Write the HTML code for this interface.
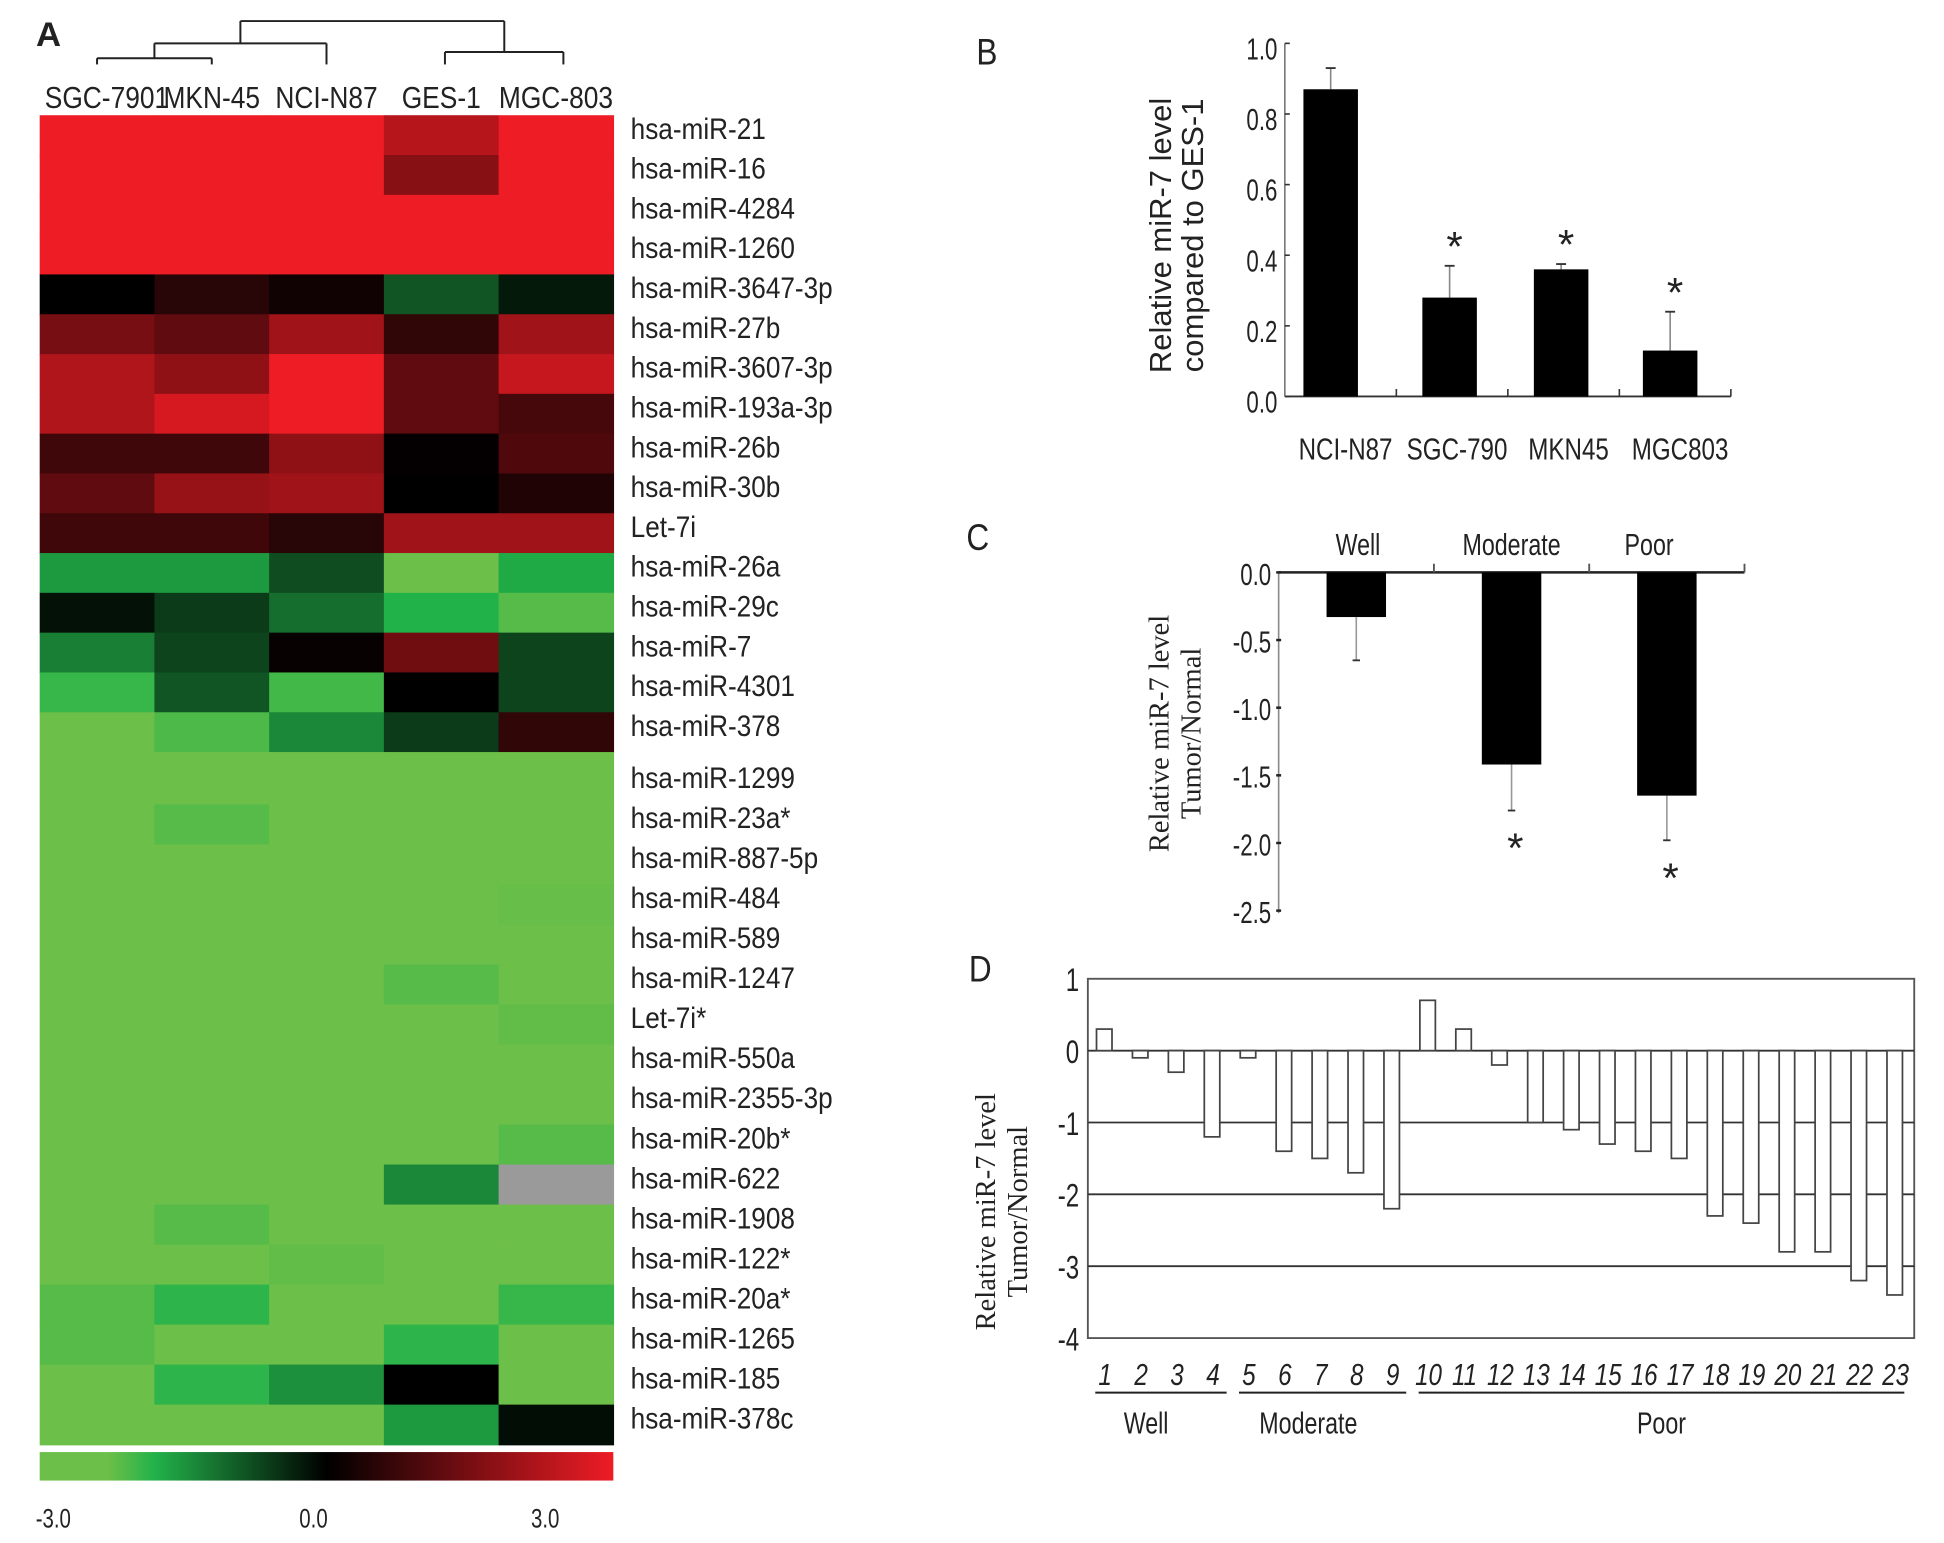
<!DOCTYPE html>
<html><head><meta charset="utf-8">
<style>
html,body{margin:0;padding:0;background:#fff;}
svg{display:block;}
text{font-family:"Liberation Sans",sans-serif;fill:#222;}
.serif{font-family:"Liberation Serif",serif;}
.sans{font-family:"Liberation Sans",sans-serif;}
</style></head>
<body>
<svg id="fig" width="1944" height="1543" viewBox="0 0 1569 1245.4" xmlns="http://www.w3.org/2000/svg">
<defs>
<linearGradient id="cbar" x1="0" x2="1" y1="0" y2="0">
<stop offset="0" stop-color="#6cbf48"/><stop offset="0.12" stop-color="#6cbf48"/>
<stop offset="0.2" stop-color="#22b24a"/><stop offset="0.5" stop-color="#000"/>
<stop offset="1" stop-color="#ee1c25"/>
</linearGradient>
</defs>
<g id="A"></g>
<g id="B"></g>
<g id="C"></g>
<g id="D"></g>
</svg>
<script>
// ---------- Panel A data ----------
const hmCols = ["SGC-7901","MKN-45","NCI-N87","GES-1","MGC-803"];
const hmRowsTop = ["hsa-miR-21","hsa-miR-16","hsa-miR-4284","hsa-miR-1260","hsa-miR-3647-3p","hsa-miR-27b","hsa-miR-3607-3p","hsa-miR-193a-3p","hsa-miR-26b","hsa-miR-30b","Let-7i","hsa-miR-26a","hsa-miR-29c","hsa-miR-7","hsa-miR-4301","hsa-miR-378"];
const hmRowsBottom = ["hsa-miR-1299","hsa-miR-23a*","hsa-miR-887-5p","hsa-miR-484","hsa-miR-589","hsa-miR-1247","Let-7i*","hsa-miR-550a","hsa-miR-2355-3p","hsa-miR-20b*","hsa-miR-622","hsa-miR-1908","hsa-miR-122*","hsa-miR-20a*","hsa-miR-1265","hsa-miR-185","hsa-miR-378c"];
const hmTop = [
[3,3,3,2.3,3],[3,3,3,1.7,3],[3,3,3,3,3],[3,3,3,3,3],
[0,0.5,0.2,-1,-0.3],[1.5,1.2,2,0.6,2],[2.2,1.8,3,1.2,2.5],[2.2,2.7,3,1.2,0.9],
[0.8,0.8,1.8,0.05,1],[1.2,1.9,2,0,0.4],[0.8,0.8,0.5,2,2],
[-1.8,-1.8,-0.9,-3,-2],[-0.2,-0.7,-1.3,-2.1,-2.6],[-1.5,-0.8,0.1,1.4,-0.8],
[-2.3,-1,-2.4,0,-0.8],[-2.8,-2.5,-1.6,-0.7,0.6]];
const hmBottom = [
[-3,-3,-3,-3,-3],[-3,-2.6,-3,-3,-3],[-3,-3,-3,-3,-3],[-3,-3,-3,-2.8,-2.75],
[-3,-3,-3,-3,-3],[-3,-3,-3,-2.6,-3],[-3,-3,-3,-2.9,-2.7],[-3,-3,-3,-3,-3],
[-3,-3,-3,-3,-3],[-3,-3,-3,-3,-2.6],[-3,-3,-3,-1.6,null],[-3,-2.6,-3,-3,-3],
[-3,-3,-2.7,-3,-3],[-2.6,-2.2,-3,-3,-2.3],[-2.6,-3,-3,-2.2,-3],[-3,-2.2,-1.7,0,-3],
[-3,-3,-3,-1.8,-0.15]];
const cbTicks = ["-3.0","0.0","3.0"];
// ---------- Panel B data ----------
const bCats = ["NCI-N87","SGC-790","MKN45","MGC803"];
const bVals = [0.87,0.28,0.36,0.13];
const bErr = [0.06,0.09,0.015,0.11];
const bSig = [false,true,true,true];
const bTicks = [0,0.2,0.4,0.6,0.8,1.0];
// ---------- Panel C data ----------
const cCats = ["Well","Moderate","Poor"];
const cVals = [-0.33,-1.42,-1.65];
const cErr = [0.32,0.34,0.33];
const cSig = [false,true,true];
const cTicks = [0,-0.5,-1,-1.5,-2,-2.5];
// ---------- Panel D data ----------
const dCases = ["1","2","3","4","5","6","7","8","9","10","11","12","13","14","15","16","17","18","19","20","21","22","23"];
const dVals = [0.3,-0.1,-0.3,-1.2,-0.1,-1.4,-1.5,-1.7,-2.2,0.7,0.3,-0.2,-1.0,-1.1,-1.3,-1.4,-1.5,-2.3,-2.4,-2.8,-2.8,-3.2,-3.4];
const dTicks = [1,0,-1,-2,-3,-4];
const dGroups = ["Well","Moderate","Poor"];
const dGroupSpans = [[1,4],[5,9],[10,23]];

const NS="http://www.w3.org/2000/svg";
function mk(parent,tag,attrs,txt){const e=document.createElementNS(NS,tag);for(const k in attrs)e.setAttribute(k,attrs[k]);if(txt!==undefined)e.textContent=txt;parent.appendChild(e);return e;}
function fit(el,f){const L=el.getComputedTextLength();if(L>0){el.setAttribute('textLength',(L*f).toFixed(1));el.setAttribute('lengthAdjust','spacingAndGlyphs');}}
function lerp(a,b,t){return a.map((v,i)=>Math.round(v+(b[i]-v)*t));}
function hmColor(v){
  if(v===null)return "#9a9a9a";
  let c;
  if(v>=0)c=lerp([0,0,0],[238,28,37],Math.min(v,3)/3);
  else if(v>-2.1)c=lerp([0,0,0],[34,178,74],(-v)/2.1);
  else c=lerp([34,178,74],[108,191,72],Math.min((-v-2.1)/0.7,1));
  return `rgb(${c[0]},${c[1]},${c[2]})`;
}

// ---------- Panel A ----------
(function(){
  const g=document.getElementById('A');
  const x0=32,x1=495,cw=(x1-x0)/hmCols.length;
  const colX=i=>x0+i*cw;
  let t=mk(g,'text',{x:29,y:37,'font-size':28,'font-weight':'bold'},'A');
  
  
  const dg=mk(g,'g',{stroke:'#222','stroke-width':1.6,fill:'none'});
  
  
  const cx=i=>colX(i)+cw/2;
  const segs=[
   [cx(0),52,cx(0),47],[cx(0),47,cx(1),47],[cx(1),47,cx(1),52],
   [(cx(0)+cx(1))/2,47,(cx(0)+cx(1))/2,35],[(cx(0)+cx(1))/2,35,cx(2),35],[cx(2),35,cx(2),52],
   [cx(3)+3,52,cx(3)+3,42],[cx(3)+3,42,cx(4)+6,42],[cx(4)+6,42,cx(4)+6,52],
   [194,35,194,17],[194,17,407,17],[407,17,407,42]];
  segs.forEach(s=>mk(dg,'line',{x1:s[0],y1:s[1],x2:s[2],y2:s[3]}));
  hmCols.forEach((c,i)=>{
    const e=mk(g,'text',{x:cx(i)+(i===0?8:0),y:87,'font-size':25,'text-anchor':'middle'},c);
    
    
    fit(e,0.85);
  });
  function drawBlock(rows,vals,top,rh,filler){
    rows.forEach((r,ri)=>{
      vals[ri].forEach((v,ci)=>{
        const y=top+ri*rh;
        const extra=(filler&&ri===0)?filler:0;
        const rc=mk(g,'rect',{x:colX(ci),y:y-extra,width:cw+0.6,height:rh+0.6+extra,fill:hmColor(v)});
        
        
      });
      const lt=mk(g,'text',{x:509,y:top+ri*rh+rh/2+3,'font-size':24},r);
      
      
      fit(lt,0.88);
    });
  }
  drawBlock(hmRowsTop,hmTop,93,(607-93)/16,0);
  drawBlock(hmRowsBottom,hmBottom,617,(1166-617)/17,10);
  const cb=mk(g,'rect',{x:32,y:1172,width:463,height:23,fill:'url(#cbar)'});
  
  
  const cbX=[43,253,440];
  cbTicks.forEach((s,i)=>{
    const e=mk(g,'text',{x:cbX[i],y:1233,'font-size':22,'text-anchor':'middle'},s);
    
    
    fit(e,0.75);
  });
})();

// ---------- Panel B ----------
(function(){
  const g=document.getElementById('B');
  const ax=1037,y0=320,yTop=35,xr=1397;
  const Y=v=>y0-(v/1.0)*(y0-yTop);
  const step=(xr-ax)/bCats.length;
  const X=i=>ax+step*(i+0.5);
  let e=mk(g,'text',{x:788,y:52,'font-size':30},'B');
  
  
  fit(e,0.85);
  mk(g,'line',{x1:ax,y1:y0,x2:xr,y2:y0,stroke:'#333','stroke-width':1.5});
  mk(g,'line',{x1:ax,y1:y0,x2:ax,y2:yTop,stroke:'#777','stroke-width':1.3});
  bTicks.forEach(v=>{
    mk(g,'line',{x1:ax,y1:Y(v),x2:ax+4,y2:Y(v),stroke:'#333','stroke-width':1.3});
    const t=mk(g,'text',{x:ax-6,y:Y(v)+13,'font-size':25,'text-anchor':'end'},v.toFixed(1));
    
    
    fit(t,0.72);
  });
  for(let i=1;i<=bCats.length;i++)mk(g,'line',{x1:ax+step*i,y1:y0,x2:ax+step*i,y2:y0-6,stroke:'#333','stroke-width':1.3});
  bCats.forEach((c,i)=>{
    const xc=X(i)-(i===0?8:(i===3?4:2));
    mk(g,'line',{x1:xc,y1:Y(bVals[i]),x2:xc,y2:Y(bVals[i]+bErr[i]),stroke:'#888','stroke-width':1.3});
    mk(g,'line',{x1:xc-4,y1:Y(bVals[i]+bErr[i]),x2:xc+4,y2:Y(bVals[i]+bErr[i]),stroke:'#333','stroke-width':1.5});
    const r=mk(g,'rect',{x:xc-22,y:Y(bVals[i]),width:44,height:y0-Y(bVals[i]),fill:'#000'});
    
    
    if(bSig[i]){const s=mk(g,'text',{x:xc+4,y:Y(bVals[i]+bErr[i])-4,'font-size':34,'text-anchor':'middle'},'*');
      
      }
    const t=mk(g,'text',{x:X(i)+4,y:371,'font-size':25,'text-anchor':'middle'},c);
    
    
    fit(t,0.78);
  });
  const tt=mk(g,'text',{transform:'rotate(-90) translate(-190,945)','font-size':25,'text-anchor':'middle'});
  
  
  mk(tt,'tspan',{x:0,y:0},'Relative miR-7 level');
  mk(tt,'tspan',{x:0,y:26},'compared to GES-1');
})();

// ---------- Panel C ----------
(function(){
  const g=document.getElementById('C');
  const ax=1032,y0=462,xr=1408,per=109.2;
  const Y=v=>y0-v*per;
  const step=(xr-ax)/cCats.length;
  const X=i=>ax+step*(i+0.5);
  let e=mk(g,'text',{x:780,y:444,'font-size':30},'C');
  
  
  fit(e,0.85);
  mk(g,'line',{x1:ax,y1:y0,x2:xr,y2:y0,stroke:'#222','stroke-width':2});
  mk(g,'line',{x1:ax,y1:y0,x2:ax,y2:Y(-2.5)+2,stroke:'#888','stroke-width':1.3});
  cTicks.forEach(v=>{
    mk(g,'line',{x1:ax-2,y1:Y(v),x2:ax+2,y2:Y(v),stroke:'#222','stroke-width':2});
    const t=mk(g,'text',{x:ax-6,y:Y(v)+10,'font-size':25,'text-anchor':'end'},v.toFixed(1));
    
    
    fit(t,0.72);
  });
  for(let i=1;i<=cCats.length;i++)mk(g,'line',{x1:ax+step*i,y1:y0,x2:ax+step*i,y2:y0-7,stroke:'#555','stroke-width':1.5});
  const lx=[1096,1220,1331];
  cCats.forEach((c,i)=>{
    const xc=X(i);
    const ev=cVals[i]-cErr[i];
    mk(g,'line',{x1:xc,y1:Y(cVals[i]),x2:xc,y2:Y(ev),stroke:'#999','stroke-width':1.3});
    mk(g,'line',{x1:xc-3,y1:Y(ev),x2:xc+3,y2:Y(ev),stroke:'#333','stroke-width':1.5});
    const r=mk(g,'rect',{x:xc-24,y:y0,width:48,height:Y(cVals[i])-y0,fill:'#000'});
    
    
    if(cSig[i]){const s=mk(g,'text',{x:xc+3,y:Y(ev)+42,'font-size':34,'text-anchor':'middle'},'*');
      
      }
    const t=mk(g,'text',{x:lx[i],y:448,'font-size':25,'text-anchor':'middle'},c);
    
    
    fit(t,0.75);
  });
  const tt=mk(g,'text',{transform:'rotate(-90) translate(-592,943)','font-size':23,'text-anchor':'middle',class:'serif'});
  
  
  mk(tt,'tspan',{x:0,y:0},'Relative  miR-7 level');
  mk(tt,'tspan',{x:0,y:26},'Tumor/Normal');
})();

// ---------- Panel D ----------
(function(){
  const g=document.getElementById('D');
  const xl=878,xr=1545,yTop=790,per=58.0;
  const y0=yTop+per;
  const Y=v=>y0-v*per;
  const step=(xr-xl)/dCases.length;
  let e=mk(g,'text',{x:782,y:792,'font-size':30},'D');
  
  
  fit(e,0.85);
  mk(g,'rect',{x:xl,y:Y(1),width:xr-xl,height:Y(-4)-Y(1),fill:'none',stroke:'#555','stroke-width':1.5});
  dTicks.forEach(v=>{
    if(v<0&&v>-4)mk(g,'line',{x1:xl,y1:Y(v),x2:xr,y2:Y(v),stroke:'#333','stroke-width':1.5});
    const t=mk(g,'text',{x:871,y:Y(v)+10,'font-size':26,'text-anchor':'end'},String(v));
    
    
    fit(t,0.75);
  });
  mk(g,'line',{x1:xl,y1:y0,x2:xr,y2:y0,stroke:'#333','stroke-width':1.5});
  dCases.forEach((c,i)=>{
    const bx=xl+i*step+7;
    const v=dVals[i];
    const r=mk(g,'rect',{x:bx,y:Math.min(Y(v),y0),width:12.5,height:Math.abs(Y(v)-y0),fill:'#fff',stroke:'#444','stroke-width':1.4});
    
    
    const t=mk(g,'text',{x:xl+i*step+14,y:1118,'font-size':25,'text-anchor':'middle','font-style':'italic'},c);
    
    
    fit(t,0.78);
  });
  const gx=[925,1056,1341];
  dGroupSpans.forEach((s,i)=>{
    const a=xl+(s[0]-1)*step+6, b=xl+s[1]*step-(i===2?8:4);
    mk(g,'line',{x1:a,y1:1124,x2:b,y2:1124,stroke:'#222','stroke-width':1.6});
    const t=mk(g,'text',{x:gx[i],y:1157,'font-size':25,'text-anchor':'middle'},dGroups[i]);
    
    
    fit(t,0.75);
  });
  const tt=mk(g,'text',{transform:'rotate(-90) translate(-978,803)','font-size':23,'text-anchor':'middle',class:'serif'});
  
  
  mk(tt,'tspan',{x:0,y:0},'Relative  miR-7 level');
  mk(tt,'tspan',{x:0,y:26},'Tumor/Normal');
})();
</script>
</body></html>
